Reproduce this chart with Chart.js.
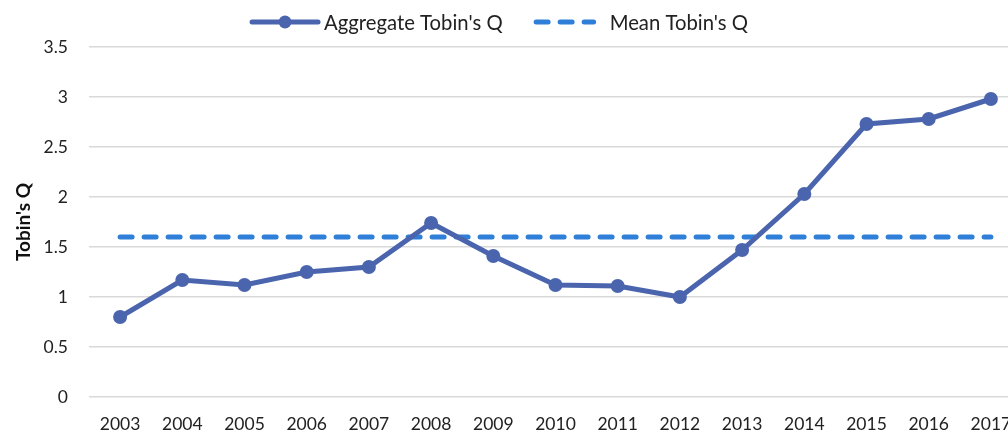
<!DOCTYPE html>
<html>
<head>
<meta charset="utf-8">
<script src="https://cdn.jsdelivr.net/npm/chart.js@4/dist/chart.umd.min.js"></script>
<style>
  html, body { margin: 0; padding: 0; background: #fff; overflow: hidden; }
  #wrap { width: 1029px; height: 433px; }
</style>
</head>
<body>
<div id="wrap"><canvas id="myChart" width="1029" height="433"></canvas></div>
<script>
const years = ['2003', '2004', '2005', '2006', '2007', '2008', '2009', '2010',
	'2011', '2012', '2013', '2014', '2015', '2016', '2017'];
const aggregateQ = [0.80, 1.17, 1.12, 1.25, 1.30, 1.74, 1.41, 1.12, 1.11, 1.00, 1.47, 2.03, 2.73, 2.78, 2.98];
const meanQ = 1.60;
const yTicks = [0, 0.5, 1, 1.5, 2, 2.5, 3, 3.5];

const lineColor = '#4a65ad';
const dashColor = '#2f7fd8';
const fontFamily = 'Lato';
const fontSize = 17.5;
const legendFontSize = 20.3;

// legend drawn by hand so the spacing can follow the picture
const legendPlugin = {
	id: 'manualLegend',
	afterDraw(chart) {
		const g = chart.ctx;
		const sets = chart.data.datasets;
		const cy = 23;
		g.save();
		g.font = legendFontSize + 'px ' + fontFamily;
		g.textBaseline = 'middle';
		const w1 = g.measureText(sets[0].label).width;
		const w2 = g.measureText(sets[1].label).width;
		const total = 70 + 4 + w1 + 31 + 62 + 14 + w2;
		let x = 499 - total / 2;

		g.strokeStyle = lineColor;
		g.lineWidth = 5;
		g.lineCap = 'round';
		g.beginPath(); g.moveTo(x + 2, cy - 1); g.lineTo(x + 68, cy - 1); g.stroke();
		g.fillStyle = lineColor;
		g.beginPath(); g.arc(x + 35, cy - 1, 6.5, 0, Math.PI * 2); g.fill();
		x += 74;
		g.fillStyle = '#222';
		g.fillText(sets[0].label, x, cy);
		x += w1 + 31;

		g.strokeStyle = dashColor;
		g.setLineDash([12, 12]);
		g.beginPath(); g.moveTo(x + 2.5, cy - 1); g.lineTo(x + 60, cy - 1); g.stroke();
		g.setLineDash([]);
		x += 62 + 14;
		g.fillText(sets[1].label, x, cy);
		g.restore();
	}
};

const ctx = document.getElementById('myChart').getContext('2d');
new Chart(ctx, {
	type: 'line',
	data: {
		labels: years,
		datasets: [{
			label: "Aggregate Tobin's Q",
			data: aggregateQ,
			borderColor: lineColor,
			backgroundColor: lineColor,
			borderWidth: 5,
			pointRadius: 7,
			pointHoverRadius: 7,
			pointBorderWidth: 0,
			tension: 0
		}, {
			label: "Mean Tobin's Q",
			data: years.map(() => meanQ),
			borderColor: dashColor,
			backgroundColor: dashColor,
			borderWidth: 5,
			borderDash: [12, 12],
			borderCapStyle: 'round',
			pointRadius: 0,
			pointHoverRadius: 0
		}]
	},
	options: {
		responsive: false,
		animation: false,
		layout: { padding: { top: 47, left: 12, right: 0, bottom: 0 } },
		plugins: {
			tooltip: { enabled: false },
			legend: { display: false }
		},
		scales: {
			x: {
				offset: true,
				grid: { display: false, drawTicks: false },
				border: { display: false },
				afterFit: (scale) => { scale.height = 36; },
				ticks: { color: '#222', padding: 17, maxRotation: 0, autoSkip: false,
					font: { family: fontFamily, size: fontSize } }
			},
			y: {
				min: 0,
				max: 3.5,
				afterBuildTicks: (axis) => { axis.ticks = yTicks.map(v => ({ value: v })); },
				afterFit: (scale) => { scale.width = 77; },
				grid: { color: '#d9d9d9', lineWidth: 1.5, drawTicks: false },
				border: { display: false },
				title: { display: true, text: "Tobin's Q", color: '#111',
					font: { family: fontFamily, size: 19, weight: 'bold' }, padding: { top: 0, bottom: 9 } },
				ticks: { color: '#222', padding: 21, font: { family: fontFamily, size: fontSize },
					callback: (v) => String(v) }
			}
		}
	},
	plugins: [legendPlugin]
});
</script>
</body>
</html>
